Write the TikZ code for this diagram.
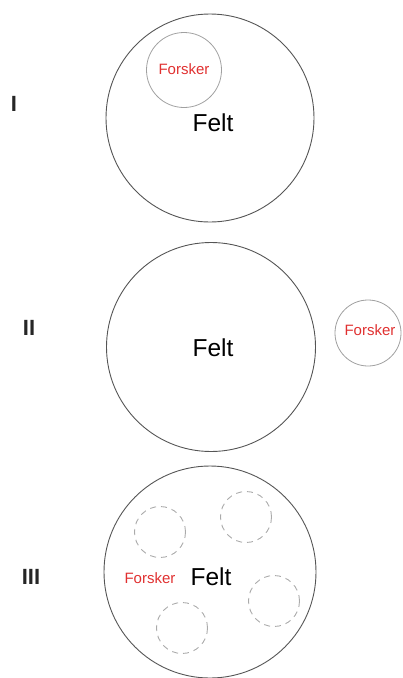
\documentclass[tikz,border=0pt]{standalone}
\usepackage{fontspec}
\setmainfont{Liberation Sans}
\definecolor{fieldline}{HTML}{555555}
\definecolor{resline}{HTML}{A0A0A0}
\definecolor{dashline}{HTML}{AAAAAA}
\definecolor{resred}{HTML}{E03030}
\begin{document}
\begin{tikzpicture}[x=1pt,y=-1pt,
  field/.style={circle, draw=fieldline, line width=0.9pt, minimum size=#1, inner sep=0pt},
  rescircle/.style={circle, draw=resline, line width=0.8pt, minimum size=#1, inner sep=0pt},
  dashcircle/.style={circle, draw=dashline, line width=0.9pt, dash pattern=on 6pt off 5pt, minimum size=51pt, inner sep=0pt},
  felttext/.style={inner sep=0pt, font=\fontsize{24.5}{26}\selectfont},
  restext/.style={inner sep=0pt, text=resred, font=\fontsize{15}{17}\selectfont},
  numeral/.style={inner sep=0pt, text=black!85, font=\bfseries\fontsize{22}{24}\selectfont}]
\useasboundingbox (0,0) rectangle (402,678);
% Case I
\node[field=208pt] (f1) at (210,118) {};
\node[rescircle=75pt] (r1) at (184,70) {};
\node[restext] (rt1) at (184,69) {Forsker};
\node[felttext] (ft1) at (213,123) {Felt};
\node[numeral] (n1) at (14,104) {I};
% Case II
\node[field=209pt] (f2) at (211,347) {};
\node[rescircle=66pt] (r2) at (368,333) {};
\node[restext] (rt2) at (370,330) {Forsker};
\node[felttext] (ft2) at (213,348) {Felt};
\node[numeral] (n2) at (29,328) {II};
% Case III
\node[field=212pt] (f3) at (210,572) {};
\node[dashcircle] (d1) at (160,532) {};
\node[dashcircle] (d2) at (246,517) {};
\node[dashcircle] (d3) at (274,601) {};
\node[dashcircle] (d4) at (182,628) {};
\node[restext] (rt3) at (150,578) {Forsker};
\node[felttext] (ft3) at (211,577) {Felt};
\node[numeral] (n3) at (31,577) {III};
\end{tikzpicture}
\end{document}
